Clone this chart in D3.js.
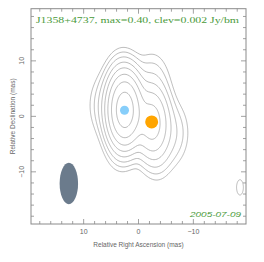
<!DOCTYPE html>
<html>
<head>
<meta charset="utf-8">
<script src="https://cdn.jsdelivr.net/npm/d3@7"></script>
<style>
  body { margin: 0; background: #fff; }
  svg { display: block; }
</style>
</head>
<body>
<div id="chart"></div>
<script>
// source / image parameters
var title = "J1358+4737, max=0.40, clev=0.002 Jy/bm";
var obsDate = "2005-07-09";
var clev = 0.002;
var levelSteps = [1, 2, 4, 8, 16, 32, 64, 128];

// model components (mas), peak in Jy/bm after restoring, intrinsic FWHM (mas)
var compX    = [2.5, -2.4, 3.0, -2.5, -3.5, 3.5, 6.5, -6.5, -18.5];
var compY    = [1.1, -1.0, 5.0, 6.0, -5.5, -4.5, 2.0, -3.0, -12.8];
var compFlux = [0.40, 0.09, 0.015, 0.006, 0.008, 0.004, 0.005, 0.006, 0.0022];
var compSize = [1.5, 2.0, 2.0, 3.0, 2.0, 2.0, 2.0, 2.0, 0];

// restoring beam (mas)
var beamMaj = 7.45, beamMin = 3.36, beamPA = 0;
var beamPos = [12.7, -12.1];

// model-fit markers
var markX = [2.55, -2.4];
var markY = [1.1, -1.0];
var markR = [4.5, 6.5];
var markColor = ["#87cefa", "#ffa500"];

var xTicks = [10, 0, -10];
var yTicks = [10, 0, -10];

var W = 264, H = 262;
var margin = { left: 31, top: 8.7, right: 18, bottom: 38 };
var pw = W - margin.left - margin.right, ph = H - margin.top - margin.bottom;

var svg = d3.select("#chart").append("svg").attr("width", W).attr("height", H);

var x = d3.scaleLinear().domain([19.6, -19.6]).range([margin.left, margin.left + pw]);
var y = d3.scaleLinear().domain([19.4, -19.4]).range([margin.top, margin.top + ph]);

// model image on a grid
var n = 216;
var cell = pw / n;
var ny = Math.round(ph / cell);
var f2s = 1 / 2.3548;
var values = new Array(n * ny);
var comps = compX.map(function (cx, k) {
    var s = compSize[k];
    return {
        x: cx, y: compY[k], p: compFlux[k],
        sx: Math.sqrt(beamMin * beamMin + s * s) * f2s,
        sy: Math.sqrt(beamMaj * beamMaj + s * s) * f2s
    };
});
for (var j = 0; j < ny; j++) {
    for (var i = 0; i < n; i++) {
        var mx = x.invert(margin.left + (i + 0.5) * cell);
        var my = y.invert(margin.top + (j + 0.5) * cell);
        var v = 0;
        comps.forEach(function (c) {
            var dx = mx - c.x, dy = my - c.y;
            v += c.p * Math.exp(-0.5 * (dx * dx / (c.sx * c.sx) + dy * dy / (c.sy * c.sy)));
        });
        values[j * n + i] = v;
    }
}

var contours = d3.contours().size([n, ny]).thresholds(levelSteps.map(function (s) { return s * clev; }))(values);
var proj = d3.geoIdentity().scale(cell).translate([margin.left, margin.top]);
svg.append("clipPath").attr("id", "clip").append("rect")
    .attr("x", margin.left).attr("y", margin.top).attr("width", pw).attr("height", ph);

svg.append("g").attr("clip-path", "url(#clip)")
    .selectAll("path").data(contours).enter().append("path")
    .attr("d", d3.geoPath(proj))
    .attr("fill", "none")
    .attr("stroke", "#a8a8a8")
    .attr("stroke-width", 0.8);

// beam
svg.append("ellipse")
    .attr("cx", x(beamPos[0])).attr("cy", y(beamPos[1]))
    .attr("rx", Math.abs(x(beamMin / 2) - x(0))).attr("ry", Math.abs(y(beamMaj / 2) - y(0)))
    .attr("fill", "#6b7b8c");

// markers
svg.selectAll(".mark").data(markX).enter().append("circle")
    .attr("class", "mark")
    .attr("cx", function (d) { return x(d); })
    .attr("cy", function (d, i) { return y(markY[i]); })
    .attr("r", function (d, i) { return markR[i]; })
    .attr("fill", function (d, i) { return markColor[i]; });

// frame and ticks
var axisColor = "#8a8a8a";
svg.append("rect").attr("x", margin.left).attr("y", margin.top).attr("width", pw).attr("height", ph)
    .attr("fill", "none").attr("stroke", axisColor).attr("stroke-width", 1);

var minorX = d3.range(-18, 19, 2);
var ticks = svg.append("g").attr("stroke", axisColor).attr("stroke-width", 0.8);
minorX.forEach(function (t) {
    var len = (t % 10 === 0) ? 5 : 3;
    var px = x(t), py = y(t);
    ticks.append("line").attr("x1", px).attr("x2", px).attr("y1", margin.top).attr("y2", margin.top + len);
    ticks.append("line").attr("x1", px).attr("x2", px).attr("y1", margin.top + ph).attr("y2", margin.top + ph - len);
    ticks.append("line").attr("y1", py).attr("y2", py).attr("x1", margin.left).attr("x2", margin.left + len);
    ticks.append("line").attr("y1", py).attr("y2", py).attr("x1", margin.left + pw).attr("x2", margin.left + pw - len);
});

var fmt = function (d) { return d < 0 ? "\u2212" + (-d) : String(d); };
var labColor = "#666";
svg.selectAll(".xt").data(xTicks).enter().append("text")
    .attr("x", function (d) { return x(d); }).attr("y", margin.top + ph + 10)
    .attr("text-anchor", "middle").attr("font-family", "Liberation Sans, Arial, sans-serif")
    .attr("font-size", 7).attr("fill", labColor).text(fmt);
svg.selectAll(".yt").data(yTicks).enter().append("text")
    .attr("transform", function (d) { return "translate(" + (margin.left - 7) + "," + y(d) + ") rotate(-90)"; })
    .attr("text-anchor", "middle").attr("font-family", "Liberation Sans, Arial, sans-serif")
    .attr("font-size", 7).attr("fill", labColor).text(fmt);

svg.append("text").attr("x", margin.left + pw / 2).attr("y", margin.top + ph + 23)
    .attr("text-anchor", "middle").attr("font-family", "Liberation Sans, Arial, sans-serif")
    .attr("font-size", 6.5).attr("fill", labColor).text("Relative Right Ascension (mas)");
svg.append("text").attr("transform", "translate(15," + (margin.top + ph / 2) + ") rotate(-90)")
    .attr("text-anchor", "middle").attr("font-family", "Liberation Sans, Arial, sans-serif")
    .attr("font-size", 6.5).attr("fill", labColor).text("Relative Declination (mas)");

// titles
svg.append("text").attr("x", 36).attr("y", 22.5)
    .attr("font-family", "Liberation Serif, serif").attr("font-size", 9.2)
    .attr("textLength", 203).attr("lengthAdjust", "spacingAndGlyphs")
    .attr("fill", "#4a9a3a").text(title);
svg.append("text").attr("x", 241).attr("y", 216.5).attr("text-anchor", "end")
    .attr("font-family", "Liberation Sans, Arial, sans-serif").attr("font-style", "italic")
    .attr("font-size", 8).attr("textLength", 51).attr("lengthAdjust", "spacingAndGlyphs")
    .attr("fill", "#4a9a3a").text(obsDate);
</script>
</body>
</html>
